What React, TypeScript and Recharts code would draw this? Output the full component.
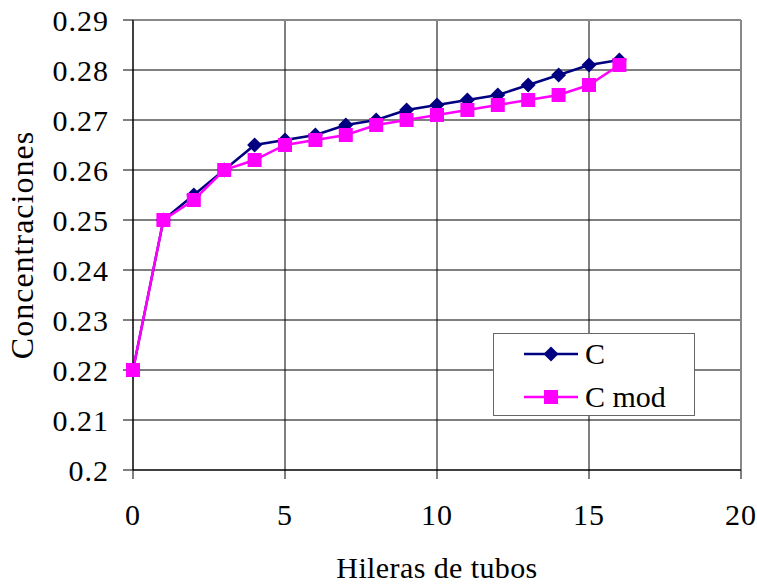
import { LineChart, Line, XAxis, YAxis, CartesianGrid, Legend, ReferenceLine } from 'recharts'

const hileras = [0, 1, 2, 3, 4, 5, 6, 7, 8, 9, 10, 11, 12, 13, 14, 15, 16]
const cValues = [0.22, 0.25, 0.255, 0.26, 0.265, 0.266, 0.267, 0.269, 0.27, 0.272, 0.273, 0.274, 0.275, 0.277, 0.279, 0.281, 0.282]
const cModValues = [0.22, 0.25, 0.254, 0.26, 0.262, 0.265, 0.266, 0.267, 0.269, 0.27, 0.271, 0.272, 0.273, 0.274, 0.275, 0.277, 0.281]
const xTicks = [0, 5, 10, 15, 20]
const yTicks = [0.2, 0.21, 0.22, 0.23, 0.24, 0.25, 0.26, 0.27, 0.28, 0.29]

const data = hileras.map((h, i) => ({ h, c: cValues[i], cmod: cModValues[i] }))

const FONT = '"Liberation Serif", Tinos, "Times New Roman", Times, serif'
const NAVY = '#000080'
const MAGENTA = '#ff00ff'
const tickStyle = { fill: '#000', fontSize: 30, fontFamily: FONT, letterSpacing: 1 }

const Diamond = (props: any) => {
  const { cx, cy } = props
  if (cx == null || cy == null) return null
  const r = 7.5
  return <path d={`M${cx},${cy - r}L${cx + r},${cy}L${cx},${cy + r}L${cx - r},${cy}Z`} fill={NAVY} />
}

const Square = (props: any) => {
  const { cx, cy } = props
  if (cx == null || cy == null) return null
  return <rect x={cx - 7} y={cy - 7} width={14} height={14} fill={MAGENTA} />
}

const LegendBox = () => (
  <div style={{ position: 'relative', border: '1px solid #666', background: '#fff', width: 202, height: 83, boxSizing: 'border-box', fontFamily: FONT, fontSize: 30 }}>
    {[{ name: 'C', color: NAVY, shape: 'd' }, { name: 'C mod', color: MAGENTA, shape: 's' }].map((it, i) => (
      <div key={it.name} style={{ position: 'absolute', left: 29, top: i === 0 ? 4 : 47, display: 'flex', alignItems: 'center', height: 32 }}>
        <svg width={56} height={20} style={{ marginRight: 6 }}>
          <line x1={1} y1={10} x2={55} y2={10} stroke={it.color} strokeWidth={2.5} />
          {it.shape === 'd'
            ? <path d="M28,2.5L35.5,10L28,17.5L20.5,10Z" fill={it.color} />
            : <rect x={21} y={3} width={14} height={14} fill={it.color} />}
        </svg>
        <span style={{ lineHeight: 1, color: '#000' }}>{it.name}</span>
      </div>
    ))}
  </div>
)

export default function App() {
  return (
    <div style={{ position: 'absolute', left: 0, top: 0, background: '#fff' }}>
      <LineChart width={757} height={585} data={data} margin={{ top: 20, right: 16, left: 0, bottom: 0 }}>
        <CartesianGrid stroke="#000" strokeWidth={1} />
        <XAxis
          dataKey="h" type="number" domain={[0, 20]} ticks={xTicks}
          height={115} tickSize={9} tickMargin={25}
          stroke="#000" tickLine={{ stroke: '#000' }}
          tick={tickStyle}
          label={{ value: 'Hileras de tubos', position: 'insideBottom', offset: 7, style: { fill: '#000', fontSize: 30, fontFamily: FONT, letterSpacing: 0.4 } }}
        />
        <YAxis
          type="number" domain={[0.2, 0.29]} ticks={yTicks} width={133}
          tickSize={10} tickMargin={14} stroke="#000"
          tickFormatter={(v) => String(Number(v.toFixed(2)))}
          tick={tickStyle}
          label={{ value: 'Concentraciones', angle: -90, position: 'insideLeft', offset: 22, style: { fill: '#000', fontSize: 32, fontFamily: FONT, letterSpacing: 1, textAnchor: 'middle' } }}
        />
        <ReferenceLine y={0.29} stroke="#888" strokeWidth={2} />
        <ReferenceLine x={20} stroke="#888" strokeWidth={2} />
        <Legend
          layout="horizontal" verticalAlign="middle" align="center"
          content={<LegendBox />}
          wrapperStyle={{ left: 493, top: 333, width: 202, height: 83, bottom: 'auto', right: 'auto' }}
        />
        <Line dataKey="c" name="C" stroke={NAVY} strokeWidth={2.5} dot={<Diamond />} activeDot={false} isAnimationActive={false} />
        <Line dataKey="cmod" name="C mod" stroke={MAGENTA} strokeWidth={2.5} dot={<Square />} activeDot={false} isAnimationActive={false} />
      </LineChart>
    </div>
  )
}
